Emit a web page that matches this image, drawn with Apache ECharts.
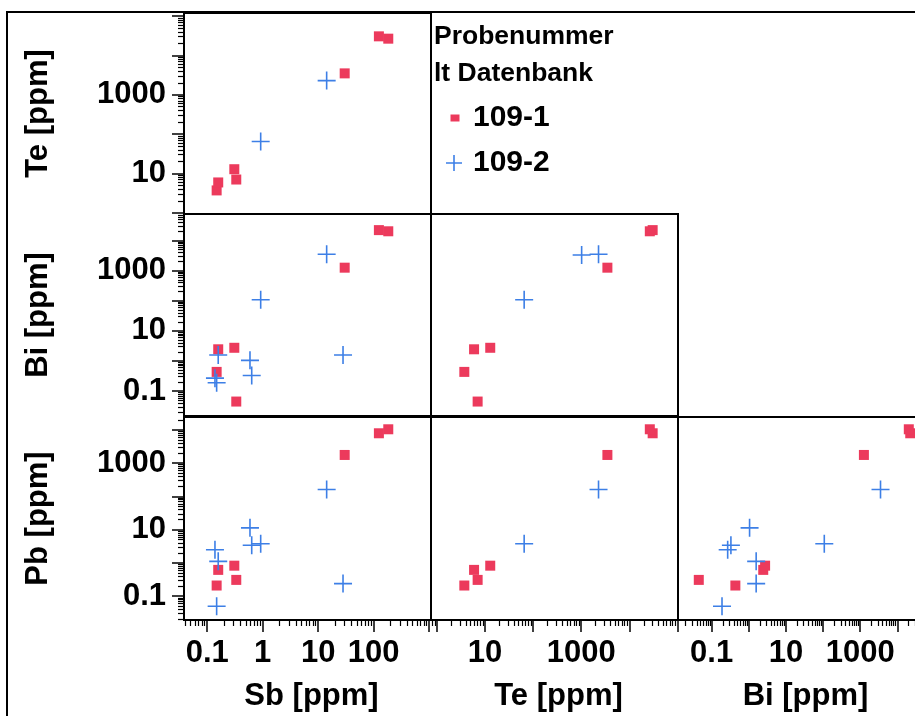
<!DOCTYPE html>
<html>
<head>
<meta charset="utf-8">
<script src="https://cdn.jsdelivr.net/npm/echarts@6/dist/echarts.min.js"></script>
<style>
  html, body { margin: 0; padding: 0; background: #fff; }
  #chart { width: 915px; height: 716px; }
</style>
</head>
<body>
<div id="chart"></div>
<script>
// Probenummer lt Datenbank
const samples = ['109-1', '109-2']

// 109-1
const sb1 = [0.148, 0.158, 0.308, 0.334, 30, 124, 183]
const te1 = [3.7, 5.9, 12.8, 7.0, 3500, 30600, 26700]
const bi1 = [0.435, 2.45, 2.75, 0.045, 1260, 22300, 20400]
const pb1 = [0.21, 0.62, 0.83, 0.31, 1770, 7940, 10470]

// 109-2 (null = kein Wert)
const sb2 = [0.138, 0.148, 0.158, 0.59, 0.634, 0.92, 14.2, 28, null]
const te2 = [null, null, null, null, null, 65, 2290, null, 1020]
const bi2 = [0.27, 0.19, 1.58, 1.05, 0.33, 108, 3530, 1.58, 3330]
const pb2 = [2.5, 0.05, 1.12, 11.4, 3.4, 3.8, 162, 0.24, null]

// Achsenbereiche (log)
const sbRangeX = [0.0382, 1077]
const teRangeX = [0.75, 103000]
const biRangeX = [0.0124, 55700]
const teRangeY = [0.93, 120000]
const biRangeY = [0.0149, 76500]
const pbRangeY = [0.0193, 24500]

// Beschriftete Werte
const sbLabels = [0.1, 1, 10, 100]
const teLabels = [10, 1000]
const biLabels = [0.1, 10, 1000]
const pbLabels = [0.1, 10, 1000]

const FONT = '"Liberation Sans", Arial, sans-serif'
const RED = '#EC3A5C'
const BLUE = '#3D7FE6'
const PLUS = 'path://M0,8.2H18V9.8H0Z M8.2,0H9.8V18H8.2Z'

const values = {
  sb: [sb1, sb2],
  te: [te1, te2],
  bi: [bi1, bi2],
  pb: [pb1, pb2],
}

// Spalten (x) und Zeilen (y) der Matrix
const cols = [
  { key: 'sb', name: 'Sb [ppm]', range: sbRangeX, labels: sbLabels, left: 184 },
  { key: 'te', name: 'Te [ppm]', range: teRangeX, labels: teLabels, left: 431 },
  { key: 'bi', name: 'Bi [ppm]', range: biRangeX, labels: biLabels, left: 678 },
]
const rows = [
  { key: 'te', name: 'Te [ppm]', range: teRangeY, labels: teLabels, top: 13, height: 201 },
  { key: 'bi', name: 'Bi [ppm]', range: biRangeY, labels: biLabels, top: 214, height: 202 },
  { key: 'pb', name: 'Pb [ppm]', range: pbRangeY, labels: pbLabels, top: 417, height: 203 },
]

// Dekaden und Zwischenstriche innerhalb des Bereichs
function decades(range) {
  const out = []
  for (let e = Math.floor(Math.log10(range[0])); e <= Math.ceil(Math.log10(range[1])); e++) {
    const v = Number(Math.pow(10, e).toPrecision(1))
    if (v >= range[0] && v <= range[1]) out.push(v)
  }
  return out
}
function minors(range) {
  const out = []
  for (let e = Math.floor(Math.log10(range[0])); e <= Math.ceil(Math.log10(range[1])); e++) {
    for (let k = 2; k <= 9; k++) {
      const v = Number((k * Math.pow(10, e)).toPrecision(2))
      if (v >= range[0] && v <= range[1]) out.push(v)
    }
  }
  return out
}

const textStyle = { fontSize: 31, fontWeight: 'bold', color: '#000', fontFamily: FONT }

function axisPair(dim, gridIndex, spec, show) {
  const common = {
    type: 'log',
    gridIndex,
    min: spec.range[0],
    max: spec.range[1],
    position: dim === 'x' ? 'bottom' : 'left',
    axisLine: { show: false },
    splitLine: { show: false },
  }
  const major = Object.assign({}, common, {
    axisTick: { show, length: 12, lineStyle: { color: '#000', width: 1.5 }, customValues: decades(spec.range) },
    axisLabel: Object.assign({ show, margin: 18, customValues: spec.labels, formatter: v => String(v) }, textStyle),
    name: show ? spec.name : '',
    nameLocation: 'middle',
    nameGap: dim === 'x' ? 61 : 130,
    nameTextStyle: Object.assign({ padding: dim === 'x' ? [0, 0, 0, 8] : 0 }, textStyle),
  })
  const minor = Object.assign({}, common, {
    axisTick: { show, length: 6, lineStyle: { color: '#000', width: 1.2 }, customValues: minors(spec.range) },
    axisLabel: { show: false },
  })
  return [major, minor]
}

// untere Dreiecksmatrix
const panels = [
  { row: 0, col: 0 },
  { row: 1, col: 0 }, { row: 1, col: 1 },
  { row: 2, col: 0 }, { row: 2, col: 1 }, { row: 2, col: 2 },
]

const grid = []
const xAxis = []
const yAxis = []
const series = []

panels.forEach((p, i) => {
  const c = cols[p.col]
  const r = rows[p.row]
  grid.push({
    left: c.left, width: 247, top: r.top, height: r.height,
    outerBoundsMode: 'none', containLabel: false,
    show: true, borderColor: '#000', borderWidth: 2, backgroundColor: 'transparent',
  })
  xAxis.push(...axisPair('x', i, c, p.row === 2))
  yAxis.push(...axisPair('y', i, r, p.col === 0))

  samples.forEach((s, si) => {
    const xs = values[c.key][si]
    const ys = values[r.key][si]
    const data = []
    xs.forEach((xv, k) => {
      if (xv != null && ys[k] != null) data.push([xv, ys[k]])
    })
    series.push({
      name: s,
      type: 'scatter',
      xAxisIndex: i * 2,
      yAxisIndex: i * 2,
      data,
      symbol: si === 0 ? 'rect' : PLUS,
      symbolSize: si === 0 ? 10 : 18,
      itemStyle: { color: si === 0 ? RED : BLUE, opacity: 1 },
      emphasis: { disabled: true },
      z: si === 0 ? 2 : 3,
    })
  })
})

const chart = echarts.init(document.getElementById('chart'), null, { renderer: 'canvas' })
chart.setOption({
  animation: false,
  backgroundColor: '#fff',
  title: {
    text: 'Probenummer\nlt Datenbank',
    left: 434,
    top: 18,
    padding: 0,
    textStyle: { fontSize: 26.5, fontWeight: 'bold', color: '#000', fontFamily: FONT, lineHeight: 37 },
  },
  legend: {
    orient: 'vertical',
    left: 439,
    top: 98,
    itemGap: 15,
    itemWidth: 24,
    itemHeight: 18,
    selectedMode: false,
    textStyle: { fontSize: 30, fontWeight: 'bold', color: '#000', fontFamily: FONT },
    data: [
      { name: '109-1', icon: 'path://M0,0M24,18M6.5,5.5h9v7h-9z' },
      { name: '109-2', icon: 'path://M0,0M24,18M2,8.2h16v1.6h-16z M9.2,1h1.6v16h-1.6z' },
    ],
  },
  graphic: [{
    type: 'polyline',
    shape: { points: [[7, 716], [7, 12], [915, 12]] },
    style: { stroke: '#000', lineWidth: 2, fill: null },
    silent: true,
  }],
  grid,
  xAxis,
  yAxis,
  series,
})
</script>
</body>
</html>
